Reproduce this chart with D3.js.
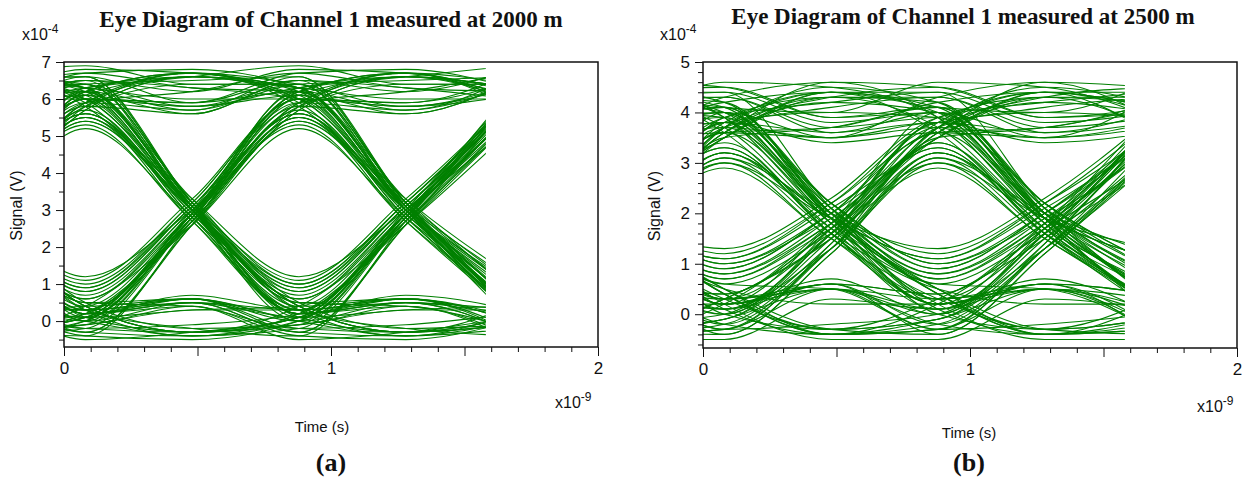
<!DOCTYPE html>
<html><head><meta charset="utf-8">
<script src="https://cdn.jsdelivr.net/npm/d3@7"></script>
<style>body{margin:0;background:#fff}svg{display:block}</style>
</head><body>
<svg id="chart" width="1249" height="478"></svg>
<script>
// ---- data (time in ns = x10^-9 s, signal in x10^-4 V) ----
// each trace is a 2-bit window of the received signal, sampled at bit centres and bit edges
const sampleTimesNs = [-0.72, -0.32, 0.08, 0.48, 0.88, 1.28, 1.68];
const traceEndNs = 1.58;

// Panel (a): signal at successive bit centres, and at the edges between them
const levelsA = [6.1,6.6,6.2,0.3,0.0,5.5,0.4,-0.2,0.1,5.9,
 6.3,0.9,5.8,6.5,6.8,6.2,0.2,0.3,5.4,1.0,
 6.0,6.4,0.5,-0.1,-0.4,0.0,5.7,6.1,0.7,5.6,
 0.2,-0.3,6.0,6.7,6.3,0.4,0.1,5.9,6.0,1.2,
 5.3,0.3,0.0,-0.2,6.2,6.4,6.6,0.1,0.4,5.6,
 0.8,5.8,6.4,0.3,-0.4,6.1,6.5,6.0,0.6,5.5,
 0.2,0.1,6.2,5.9,0.5,-0.3,0.2,5.4,1.1,6.0,
 6.3,6.9,6.4,0.0,0.3,5.7,0.4,-0.1,6.1,6.3,
 0.8,5.9,6.6,0.2,-0.5,0.1,5.8,6.4,6.1,0.6,
 5.6,0.3,0.0,6.3,6.0,0.1,0.4,5.2,0.5,-0.2,
 0.2,5.9,6.7,6.2,0.3,-0.3,5.5,0.9,6.0,6.5,
 0.2,0.1,5.7,6.3,6.0,0.4,-0.1,0.3,6.2,5.8,
 1.0,5.9];
const edgesA = [6.5,5.9,3.0,-0.4,2.7,2.9,0.6,-0.3,2.8,6.6,
 3.2,3.1,5.6,6.2,6.7,3.0,0.7,2.7,3.0,3.2,
 5.8,3.2,-0.2,0.4,-0.5,2.7,6.6,3.1,3.0,2.8,
 0.5,2.6,5.9,6.8,3.1,-0.3,2.9,6.7,3.3,3.0,
 2.7,0.6,-0.4,2.8,5.7,6.5,3.1,0.3,2.9,3.0,
 3.1,6.4,3.2,-0.2,2.7,5.6,6.3,3.0,2.9,2.7,
 0.5,3.0,6.7,3.1,0.6,-0.4,2.6,3.1,3.3,5.8,
 6.6,6.4,3.0,0.5,2.8,2.9,-0.3,2.8,6.6,3.3,
 3.1,5.7,3.2,0.4,-0.3,2.8,6.7,5.8,3.1,3.0,
 2.8,0.6,2.9,6.6,3.0,-0.3,2.6,2.8,0.4,-0.1,
 2.9,6.2,6.3,3.1,0.5,2.6,3.0,3.2,5.9,3.2,
 0.6,2.8,6.6,6.0,3.0,-0.3,0.3,2.9,6.7,3.2,
 3.2];

// Panel (b)
const levelsB = [0.0,0.3,3.6,4.0,0.9,3.7,4.3,3.9,0.2,-0.2,
 3.2,1.1,3.5,4.1,0.4,-0.3,0.1,3.8,3.6,0.7,
 3.0,0.3,-0.1,3.7,4.5,4.0,1.0,3.3,0.2,0.0,
 3.9,3.7,0.5,-0.4,3.1,1.2,3.6,4.2,4.4,0.3,
 -0.2,0.2,3.8,4.0,0.8,3.4,0.1,0.4,3.5,4.1,
 4.6,3.9,0.0,0.3,3.2,0.6,-0.3,3.7,4.2,0.9,
 3.6,3.8,0.2,-0.5,0.1,3.0,1.3,3.9,4.4,4.0,
 0.4,-0.1,3.5,4.1,0.7,3.3,0.3,-0.3,0.0,3.8,
 3.6,0.2,0.4,3.7,4.3,3.9,1.0,3.5,4.2,0.1,
 -0.2,3.1,0.5,0.2,4.0,3.7,0.8,3.6,4.5,4.1,
 0.3,-0.4,3.2,1.1,3.8,3.9,0.4,-0.1,0.3,3.6,
 4.3,3.8,0.6,2.9,0.2,0.0,3.7,4.0,0.5,-0.3,
 3.4,0.2];
const edgesB = [-0.4,1.5,4.2,2.1,2.0,3.5,4.6,1.8,0.6,1.3,
 1.9,2.1,4.4,2.0,-0.4,0.5,1.6,3.4,1.9,1.7,
 1.5,-0.3,1.4,4.3,3.9,2.2,1.9,1.6,0.7,1.7,
 4.3,1.8,-0.3,1.2,2.0,2.2,3.7,4.4,2.1,0.5,
 -0.4,1.7,3.6,2.0,1.8,1.6,0.6,1.7,4.4,4.0,
 4.5,1.9,-0.3,1.5,1.7,0.5,1.4,4.5,2.2,2.0,
 3.5,1.8,-0.5,0.3,1.3,1.9,2.3,4.2,3.8,1.9,
 -0.3,1.5,3.7,2.1,1.8,1.6,0.5,-0.2,1.6,4.4,
 1.7,0.6,1.8,4.1,3.7,2.2,2.0,4.3,1.9,-0.4,
 1.3,1.6,0.2,1.8,3.5,2.0,1.9,4.6,3.9,2.0,
 0.6,1.2,1.9,2.2,4.0,1.9,-0.4,0.5,1.6,4.3,
 3.6,2.0,1.6,1.5,0.5,1.6,4.4,1.9,-0.4,1.3,
 1.7];

// ticks
const xMajorTicks = [0, 0.5, 1, 1.5, 2];
const xTickLabels = [0, 1, 2];
const xMinorTicks = [0.1,0.2,0.3,0.4,0.6,0.7,0.8,0.9,1.1,1.2,1.3,1.4,1.6,1.7,1.8,1.9];
const yMajorA = [0,1,2,3,4,5,6,7];
const yMinorA = [-0.5,0.5,1.5,2.5,3.5,4.5,5.5,6.5];
const yMajorB = [0,1,2,3,4,5];
const yMinorB = [-0.6,-0.4,-0.2,0.2,0.4,0.6,0.8,1.2,1.4,1.6,1.8,2.2,2.4,2.6,2.8,3.2,3.4,3.6,3.8,4.2,4.4,4.6,4.8];
const titles = ["Eye Diagram of Channel 1 measured at 2000 m", "Eye Diagram of Channel 1 measured at 2500 m"];
const panelLabels = ["(a)", "(b)"];
const xAxisTitle = "Time (s)";
const yAxisTitle = "Signal (V)";
const yExponent = "-4";
const xExponent = "-9";

// ---- drawing ----
const svg = d3.select("#chart");
const SANS = "'Liberation Sans', Arial, sans-serif";
const SERIF = "'Liberation Serif', 'Times New Roman', serif";

const panels = [
  {id:"a", x0:64, x1:598, y0:62, y1:347, yDomain:[-0.7,7], levels:levelsA, edges:edgesA,
   yMajor:yMajorA, yMinor:yMinorA, title:titles[0], label:panelLabels[0],
   titleX:331, titleY:27, yTitleX:18, expYX:22, expYY:40, expXX:555, expXY:408, xTitleX:322, xTitleY:432, labelX:331, labelY:471},
  {id:"b", x0:703, x1:1237, y0:62, y1:348, yDomain:[-0.67,5], levels:levelsB, edges:edgesB,
   yMajor:yMajorB, yMinor:yMinorB, title:titles[1], label:panelLabels[1],
   titleX:963, titleY:24, yTitleX:656, expYX:660, expYY:40, expXX:1197, expXY:412, xTitleX:969, xTitleY:438, labelX:969, labelY:471}
];

function styleAxis(g, size) {
  g.select(".domain").remove();
  g.selectAll("line").attr("stroke", "#111").attr("stroke-width", 1);
  g.selectAll("text").attr("fill", "#111");
  g.attr("font-family", SANS).attr("font-size", size);
}

panels.forEach(p => {
  const x = d3.scaleLinear().domain([0, 2]).range([p.x0, p.x1]);
  const y = d3.scaleLinear().domain(p.yDomain).range([p.y1, p.y0]);
  const g = svg.append("g");

  const clipId = "clip-" + p.id;
  svg.append("clipPath").attr("id", clipId).append("rect")
    .attr("x", x(0)).attr("y", p.y0)
    .attr("width", x(traceEndNs) - x(0)).attr("height", p.y1 - p.y0);

  // one trace per bit: window of 4 bit centres and the 3 edges between them
  const n = p.levels.length - 3;
  const traces = [];
  for (let k = 0; k < n; k++) {
    const vals = [p.levels[k], p.edges[k], p.levels[k+1], p.edges[k+1],
                  p.levels[k+2], p.edges[k+2], p.levels[k+3]];
    traces.push(sampleTimesNs.map((t, i) => [t, vals[i]]));
  }
  const line = d3.line().x(d => x(d[0])).y(d => y(d[1])).curve(d3.curveMonotoneX);
  g.append("g").attr("clip-path", `url(#${clipId})`)
    .selectAll("path").data(traces).join("path")
    .attr("d", line).attr("fill", "none")
    .attr("stroke", "#008000").attr("stroke-width", 1.1);

  // frame
  g.append("rect").attr("x", p.x0).attr("y", p.y0)
    .attr("width", p.x1 - p.x0).attr("height", p.y1 - p.y0)
    .attr("fill", "none").attr("stroke", "#111").attr("stroke-width", 1.5);

  // x axis
  g.append("g").attr("transform", `translate(0,${p.y1})`)
    .call(d3.axisBottom(x).tickValues(xMinorTicks).tickSize(5).tickFormat(""))
    .call(a => styleAxis(a, 17));
  g.append("g").attr("transform", `translate(0,${p.y1})`)
    .call(d3.axisBottom(x).tickValues(xMajorTicks).tickSize(9).tickPadding(6)
      .tickFormat(d => xTickLabels.includes(d) ? d3.format("d")(d) : ""))
    .call(a => styleAxis(a, 17));

  // y axis
  g.append("g").attr("transform", `translate(${p.x0},0)`)
    .call(d3.axisLeft(y).tickValues(p.yMinor).tickSize(5).tickFormat(""))
    .call(a => styleAxis(a, 17));
  g.append("g").attr("transform", `translate(${p.x0},0)`)
    .call(d3.axisLeft(y).tickValues(p.yMajor).tickSize(8).tickPadding(5).tickFormat(d3.format("d")))
    .call(a => styleAxis(a, 17));

  // exponents
  const ey = g.append("text").attr("x", p.expYX).attr("y", p.expYY)
    .attr("font-family", SANS).attr("font-size", 16).attr("fill", "#111");
  ey.append("tspan").text("x10");
  ey.append("tspan").attr("dy", -7).attr("font-size", 12).text(yExponent);
  const ex = g.append("text").attr("x", p.expXX).attr("y", p.expXY)
    .attr("font-family", SANS).attr("font-size", 16).attr("fill", "#111");
  ex.append("tspan").text("x10");
  ex.append("tspan").attr("dy", -7).attr("font-size", 12).text(xExponent);

  // axis titles
  g.append("text").attr("x", p.xTitleX).attr("y", p.xTitleY)
    .attr("text-anchor", "middle").attr("font-family", SANS).attr("font-size", 15)
    .attr("fill", "#111").text(xAxisTitle);
  g.append("text").attr("transform", `translate(${p.yTitleX},${(p.y0 + p.y1) / 2 + 1}) rotate(-90)`)
    .attr("text-anchor", "middle").attr("dominant-baseline", "middle")
    .attr("font-family", SANS).attr("font-size", 16).attr("fill", "#111").text(yAxisTitle);

  // title
  g.append("text").attr("x", p.titleX).attr("y", p.titleY)
    .attr("text-anchor", "middle").attr("font-family", SERIF).attr("font-weight", "bold")
    .attr("font-size", 23).attr("fill", "#111").text(p.title);

  // panel label
  g.append("text").attr("x", p.labelX).attr("y", p.labelY)
    .attr("text-anchor", "middle").attr("font-family", SERIF).attr("font-weight", "bold")
    .attr("font-size", 26).attr("fill", "#111").text(p.label);
});
</script>
</body></html>
